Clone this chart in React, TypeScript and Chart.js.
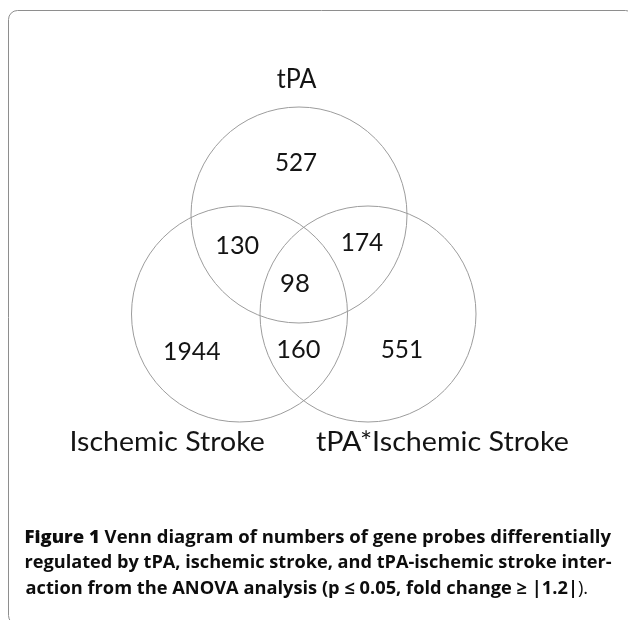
import React, { useEffect, useRef } from "react";
import { Chart, registerables } from "chart.js";

Chart.register(...registerables);

// ---- data ----
const SET_NAMES = ["tPA", "Ischemic Stroke", "tPA*Ischemic Stroke"];
const REGION_KEYS = ["tPA", "tPA&IS", "tPA&Int", "all", "IS", "IS&Int", "Int"];
const REGION_COUNTS = [527, 130, 174, 98, 1944, 160, 551];
const CAPTION_LEAD = "Figure 1";
const CAPTION_LINES = [
  " Venn diagram of numbers of gene probes differentially",
  "regulated by tPA, ischemic stroke, and tPA-ischemic stroke inter-",
  "action from the ANOVA analysis (p \u2264 0.05, fold change \u2265 |1.2|",
];
const CAPTION_END = ").";

// ---- layout (diagram units) ----
const CIRCLE_X = [299, 239.5, 368];
const CIRCLE_Y = [215, 314, 314];
const CIRCLE_R = 108;
// [centerX, baseline, inkWidth]
const REGION_POS: number[][] = [
  [296.3, 170.7, 40.7],
  [238, 254, 41.4],
  [362.7, 250.7, 40],
  [295.2, 292.3, 28.3],
  [192.5, 360, 55],
  [299.2, 357.7, 41.7],
  [401.7, 357.7, 40],
];
const SET_LABEL_POS: number[][] = [
  [296.7, 88.3, 40],
  [167.9, 450.7, 192.3],
  [442, 450.7, 252],
];

type Seg = { text: string; font: string };

function drawSegs(
  ctx: CanvasRenderingContext2D,
  segs: Seg[],
  x: number,
  baseline: number,
  targetW: number,
  align: "left" | "center"
) {
  const ms = segs.map((s) => {
    ctx.font = s.font;
    return ctx.measureText(s.text);
  });
  let adv = 0;
  const starts: number[] = [];
  ms.forEach((m) => {
    starts.push(adv);
    adv += m.width;
  });
  const inkL = ms[0].actualBoundingBoxLeft;
  const last = ms.length - 1;
  const inkR = starts[last] + ms[last].actualBoundingBoxRight;
  const ink = inkL + inkR;
  const s = targetW / ink;
  ctx.save();
  const left = align === "center" ? x - targetW / 2 : x;
  ctx.translate(left, baseline);
  ctx.scale(s, 1);
  ctx.textAlign = "left";
  ctx.textBaseline = "alphabetic";
  segs.forEach((sg, i) => {
    ctx.font = sg.font;
    ctx.fillText(sg.text, inkL + starts[i], 0);
  });
  ctx.restore();
}

const vennPlugin = {
  id: "vennText",
  beforeDatasetsDraw(chart: any) {
    const ctx: CanvasRenderingContext2D = chart.ctx;
    ctx.save();
    ctx.strokeStyle = "#8e8e8e";
    ctx.lineWidth = 1;
    ctx.beginPath();
    ctx.roundRect(8.5, 10.5, 626, 614, 9);
    ctx.stroke();
    ctx.restore();
  },
  afterDatasetsDraw(chart: any) {
    const ctx: CanvasRenderingContext2D = chart.ctx;
    const xs = chart.scales.x;
    const ys = chart.scales.y;
    ctx.save();
    ctx.fillStyle = "#141414";
    const numFont = '25px Lato, "Open Sans", sans-serif';
    REGION_COUNTS.forEach((v, i) => {
      const p = REGION_POS[i];
      drawSegs(
        ctx,
        [{ text: String(v), font: numFont }],
        xs.getPixelForValue(p[0]),
        ys.getPixelForValue(p[1]),
        p[2],
        "center"
      );
    });
    SET_NAMES.forEach((n, i) => {
      const p = SET_LABEL_POS[i];
      drawSegs(
        ctx,
        [{ text: n, font: '26px Lato, "Open Sans", sans-serif' }],
        xs.getPixelForValue(p[0]),
        ys.getPixelForValue(p[1]),
        p[2],
        "center"
      );
    });
    // caption
    ctx.fillStyle = "#0d0d0d";
    const heavy = '800 17.5px "Open Sans", sans-serif';
    const bold = 'bold 17.5px "Open Sans", sans-serif';
    const reg = '400 17.5px "Open Sans", sans-serif';
    drawSegs(
      ctx,
      [
        { text: CAPTION_LEAD, font: heavy },
        { text: CAPTION_LINES[0], font: bold },
      ],
      25.5,
      542.5,
      585.5,
      "left"
    );
    drawSegs(ctx, [{ text: CAPTION_LINES[1], font: bold }], 25.5, 568, 586.5, "left");
    drawSegs(
      ctx,
      [
        { text: CAPTION_LINES[2], font: bold },
        { text: CAPTION_END, font: reg },
      ],
      25.5,
      593.5,
      562,
      "left"
    );
    ctx.restore();
  },
};

export default function App() {
  const ref = useRef<HTMLCanvasElement | null>(null);
  useEffect(() => {
    if (!ref.current) return;
    const chart = new Chart(ref.current, {
      type: "scatter",
      data: {
        datasets: [
          {
            label: "sets",
            data: CIRCLE_X.map((x, i) => ({ x, y: CIRCLE_Y[i] })),
            pointRadius: (c: any) => {
              const s = c.chart.scales.x;
              return s.getPixelForValue(CIRCLE_R) - s.getPixelForValue(0);
            },
            pointBackgroundColor: "rgba(0,0,0,0)",
            pointBorderColor: "#9c9c9c",
            pointBorderWidth: 1,
            clip: false,
          } as any,
        ],
      },
      options: {
        responsive: false,
        animation: false,
        events: [],
        layout: { padding: 0 },
        scales: {
          x: { type: "linear", min: 0, max: 628, display: false },
          y: { type: "linear", min: 0, max: 620, reverse: true, display: false },
        },
        plugins: {
          legend: { display: false },
          tooltip: { enabled: false },
          title: { display: false },
        },
      },
      plugins: [vennPlugin],
    });
    return () => chart.destroy();
  }, []);
  return (
    <div
      style={{
        position: "absolute",
        left: 0,
        top: 0,
        width: 628,
        height: 620,
        background: "#fff",
        overflow: "hidden",
      }}
    >
      <canvas ref={ref} width={628} height={620} style={{ display: "block" }} />
    </div>
  );
}
